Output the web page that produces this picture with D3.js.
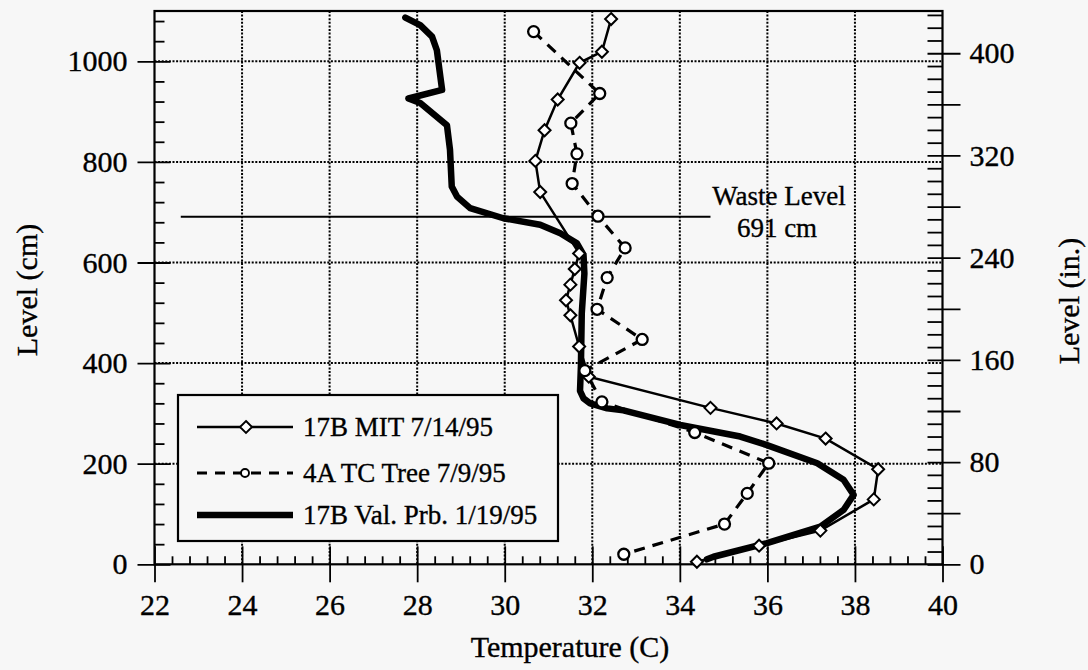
<!DOCTYPE html>
<html>
<head>
<meta charset="utf-8">
<script src="https://cdn.jsdelivr.net/npm/d3@7"></script>
<style>
  html, body { margin: 0; padding: 0; background: #f7f7f7; }
  svg { display: block; }
  text { font-family: "Liberation Serif", "Times New Roman", serif; fill: #000; stroke: #000; stroke-width: 0.35px; }
</style>
</head>
<body>
<svg id="chart" width="1088" height="670"></svg>
<script>
// ---- Data ----
const mitTemp  = [32.43, 32.22, 31.71, 31.21, 30.91, 30.70, 30.81, 31.70, 31.60, 31.50, 31.40, 31.50, 31.70, 31.92, 34.70, 36.21, 37.33, 38.53, 38.43, 37.21, 35.81, 34.39];
const mitLevel = [1084, 1019, 997, 924, 863, 802, 740, 618, 587, 556, 525, 495, 433, 373, 311, 280, 250, 189, 129, 67, 37, 5];

const tcTemp  = [30.66, 32.17, 31.51, 31.65, 31.54, 32.13, 32.75, 32.34, 32.11, 33.14, 31.83, 32.22, 34.34, 36.03, 35.54, 35.02, 32.72];
const tcLevel = [1059, 936, 877, 816, 757, 692, 629, 570, 507, 447, 385, 323, 262, 201, 141, 80, 20];

const valTemp  = [27.73, 28.07, 28.34, 28.45, 28.53, 28.57, 27.80, 28.07, 28.68, 28.75, 28.79, 28.91, 29.21, 29.97, 30.81, 31.27, 31.65, 31.80, 31.82, 31.76, 31.74, 31.72, 31.80, 31.95, 32.34, 32.71, 34.01, 35.38, 35.99, 37.14, 37.74, 37.97, 37.74, 37.21, 35.99, 34.77, 34.62];
const valLevel = [1087, 1072, 1049, 1022, 969, 943, 926, 917, 873, 824, 751, 731, 708, 688, 675, 658, 638, 615, 578, 499, 393, 345, 330, 320, 310, 306, 277, 254, 237, 201, 168, 138, 108, 75, 42, 15, 10];

const xTicks = [22, 24, 26, 28, 30, 32, 34, 36, 38, 40];
const yTicksCm = [0, 200, 400, 600, 800, 1000];
const yTicksIn = [0, 80, 160, 240, 320, 400];
const seriesNames = ["17B MIT 7/14/95", "4A TC Tree 7/9/95", "17B Val. Prb. 1/19/95"];
const wasteLevel = 691;
const wasteLabel = ["Waste Level", "691 cm"];
const wasteTempRange = [22.6, 34.7];

// ---- Layout ----
const svg = d3.select("#chart");
const L = 154.5, R = 942.5, T = 11, B = 564.3;
const x = d3.scaleLinear().domain([22, 40]).range([L, R]);
const y = d3.scaleLinear().domain([0, 1100]).range([B, T]);
const yIn = d3.scaleLinear().domain([0, 1100 / 2.54]).range([B, T]);

// grid
const grid = svg.append("g").attr("stroke", "#000").attr("stroke-width", 2).attr("stroke-dasharray", "2 1.6");
grid.selectAll("line.v").data(xTicks.filter(d => d > 22 && d < 40)).join("line")
  .attr("x1", d => x(d)).attr("x2", d => x(d)).attr("y1", T).attr("y2", B);
grid.selectAll("line.h").data(yTicksCm.filter(d => d > 0)).join("line")
  .attr("x1", L).attr("x2", R).attr("y1", d => y(d)).attr("y2", d => y(d));

// frame
svg.append("rect").attr("x", L).attr("y", T).attr("width", R - L).attr("height", B - T)
  .attr("fill", "none").attr("stroke", "#000").attr("stroke-width", 2.2);

function styleAxis(g) {
  g.select(".domain").remove();
  g.selectAll("line").attr("stroke", "#000").attr("stroke-width", 1.8);
  g.selectAll("text").style("font-family", '"Liberation Serif", serif').style("font-size", "30px").attr("fill", "#000");
}

// left axis (cm)
const minorCm = d3.range(40, 1100, 40).filter(d => d % 200 !== 0);
svg.append("g").attr("transform", `translate(${L},0)`)
  .call(d3.axisLeft(y).tickValues(minorCm).tickSize(-10).tickFormat(""))
  .call(styleAxis);
svg.append("g").attr("transform", `translate(${L},0)`)
  .call(d3.axisLeft(y).tickValues(yTicksCm).tickSize(17).tickPadding(10).tickFormat(d3.format("d")))
  .call(styleAxis)
  .call(g => g.selectAll(".tick line").attr("x1", 16));

// bottom axis
const minorX = d3.range(22.4, 40, 0.4).filter(d => Math.abs(d / 2 - Math.round(d / 2)) > 0.01);
svg.append("g").attr("transform", `translate(0,${B})`)
  .call(d3.axisBottom(x).tickValues(minorX).tickSize(-8).tickFormat(""))
  .call(styleAxis);
svg.append("g").attr("transform", `translate(0,${B})`)
  .call(d3.axisBottom(x).tickValues(xTicks).tickSize(18).tickPadding(11).tickFormat(d3.format("d")))
  .call(styleAxis)
  .call(g => g.selectAll(".tick line").attr("y1", -18));

// right axis (inches)
const minorIn = d3.range(10, 433, 10).filter(d => d % 40 !== 0);
const midIn = d3.range(40, 433, 80);
svg.append("g").attr("transform", `translate(${R},0)`)
  .call(d3.axisRight(yIn).tickValues(minorIn).tickSize(-15).tickFormat(""))
  .call(styleAxis);
svg.append("g").attr("transform", `translate(${R},0)`)
  .call(d3.axisRight(yIn).tickValues(midIn).tickSize(18).tickFormat(""))
  .call(styleAxis)
  .call(g => g.selectAll(".tick line").attr("x1", -15));
svg.append("g").attr("transform", `translate(${R},0)`)
  .call(d3.axisRight(yIn).tickValues(yTicksIn).tickSize(18).tickPadding(9).tickFormat(d3.format("d")))
  .call(styleAxis)
  .call(g => g.selectAll(".tick line").attr("x1", -15));

// axis titles
svg.append("text").attr("transform", `translate(26,290) rotate(-90)`)
  .attr("text-anchor", "middle").attr("dy", "0.35em").style("font-size", "30px").text("Level (cm)");
svg.append("text").attr("transform", `translate(1068,301) rotate(-90)`)
  .attr("text-anchor", "middle").attr("dy", "0.35em").style("font-size", "30px").text("Level (in.)");
svg.append("text").attr("x", 570).attr("y", 657)
  .attr("text-anchor", "middle").style("font-size", "30px").text("Temperature (C)");

// waste level
svg.append("line").attr("x1", x(wasteTempRange[0])).attr("x2", x(wasteTempRange[1]))
  .attr("y1", y(wasteLevel)).attr("y2", y(wasteLevel)).attr("stroke", "#000").attr("stroke-width", 1.8);
svg.append("text").attr("x", 779).attr("y", 205).attr("text-anchor", "middle").style("font-size", "27px").text(wasteLabel[0]);
svg.append("text").attr("x", 777).attr("y", 237).attr("text-anchor", "middle").style("font-size", "27px").text(wasteLabel[1]);

// series
const line = d3.line().x(d => x(d[0])).y(d => y(d[1]));
const mit = mitTemp.map((t, i) => [t, mitLevel[i]]);
const tc = tcTemp.map((t, i) => [t, tcLevel[i]]);
const val = valTemp.map((t, i) => [t, valLevel[i]]);

svg.append("path").datum(val).attr("d", line).attr("fill", "none").attr("stroke", "#000")
  .attr("stroke-width", 6.5).attr("stroke-linejoin", "round").attr("stroke-linecap", "round");
svg.append("path").datum(tc).attr("d", line).attr("fill", "none").attr("stroke", "#000")
  .attr("stroke-width", 3.2).attr("stroke-dasharray", "11 8");
svg.append("path").datum(mit).attr("d", line).attr("fill", "none").attr("stroke", "#000")
  .attr("stroke-width", 2.5);

const diamond = s => `M0,${-s}L${s},0L0,${s}L${-s},0Z`;
svg.append("g").selectAll("path").data(mit).join("path")
  .attr("transform", d => `translate(${x(d[0])},${y(d[1])})`)
  .attr("d", diamond(6)).attr("fill", "#fff").attr("stroke", "#000").attr("stroke-width", 2);
svg.append("g").selectAll("circle").data(tc).join("circle")
  .attr("cx", d => x(d[0])).attr("cy", d => y(d[1])).attr("r", 5.5)
  .attr("fill", "#fff").attr("stroke", "#000").attr("stroke-width", 2.3);

// legend
const lg = svg.append("g");
lg.append("rect").attr("x", 178).attr("y", 395).attr("width", 380).attr("height", 146)
  .attr("fill", "#f7f7f7").attr("stroke", "#000").attr("stroke-width", 2.2);
const rows = [427, 473, 515];
lg.append("line").attr("x1", 197).attr("x2", 293).attr("y1", rows[0]).attr("y2", rows[0]).attr("stroke", "#000").attr("stroke-width", 2.3);
lg.append("path").attr("transform", `translate(246,${rows[0]})`).attr("d", diamond(6)).attr("fill", "#fff").attr("stroke", "#000").attr("stroke-width", 1.9);
lg.append("line").attr("x1", 197).attr("x2", 293).attr("y1", rows[1]).attr("y2", rows[1]).attr("stroke", "#000").attr("stroke-width", 3).attr("stroke-dasharray", "10 8");
lg.append("circle").attr("cx", 245).attr("cy", rows[1]).attr("r", 4).attr("fill", "#fff").attr("stroke", "#000").attr("stroke-width", 1.9);
lg.append("line").attr("x1", 197).attr("x2", 293).attr("y1", rows[2]).attr("y2", rows[2]).attr("stroke", "#000").attr("stroke-width", 6.5);
seriesNames.forEach((n, i) => {
  lg.append("text").attr("x", 303).attr("y", rows[i]).attr("dy", "0.35em").style("font-size", "27px").text(n);
});
</script>
</body>
</html>
